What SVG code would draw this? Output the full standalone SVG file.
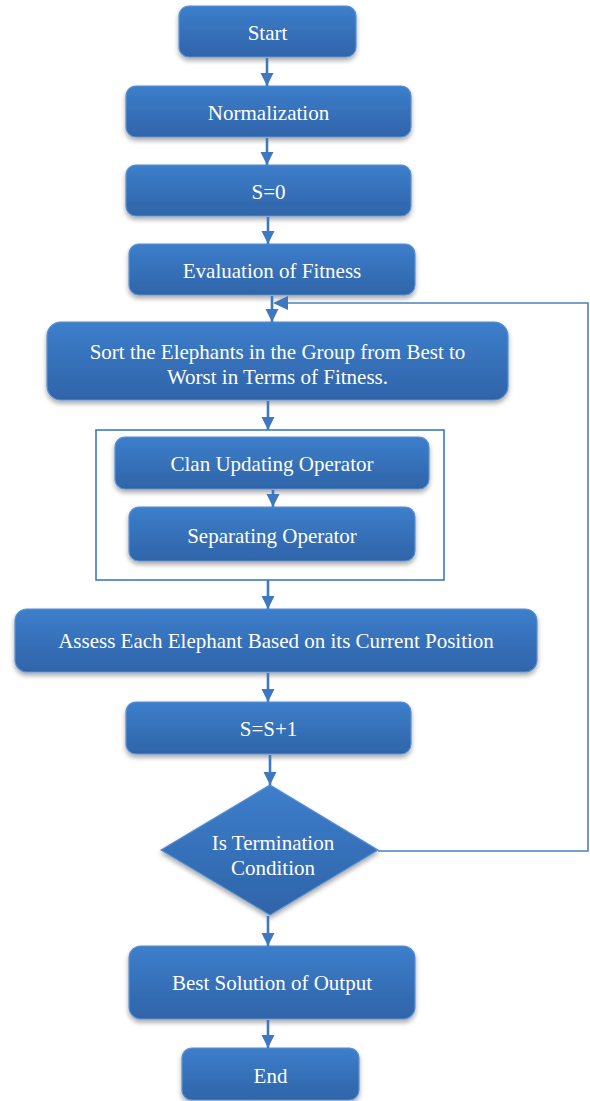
<svg xmlns="http://www.w3.org/2000/svg" width="590" height="1101" viewBox="0 0 590 1101">
  <defs>
    <linearGradient id="boxFill" x1="0" y1="0" x2="0" y2="1">
      <stop offset="0" stop-color="#3d7ecb"/>
      <stop offset="1" stop-color="#2f64a9"/>
    </linearGradient>
    <filter id="shadow" x="-10%" y="-20%" width="120%" height="150%">
      <feGaussianBlur in="SourceAlpha" stdDeviation="2.5"/>
      <feOffset dx="0" dy="3" result="b"/>
      <feComponentTransfer><feFuncA type="linear" slope="0.35"/></feComponentTransfer>
      <feMerge><feMergeNode/><feMergeNode in="SourceGraphic"/></feMerge>
    </filter>
    <marker id="arrow" viewBox="0 0 10 10" refX="10" refY="5" markerWidth="5" markerHeight="5.4" orient="auto" markerUnits="strokeWidth">
      <path d="M0,0 L10,5 L0,10 z" fill="#3f78c0"/>
    </marker>
  </defs>
  <style>
    .box { fill: url(#boxFill); stroke: #5a8fd0; stroke-width: 1.2; filter: url(#shadow); }
    .label { font-family: "Liberation Serif", "Times New Roman", serif; font-size: 21px; fill: #ffffff; text-anchor: middle; }
    .conn { stroke: #3f78c0; stroke-width: 2.6; fill: none; marker-end: url(#arrow); }
    .loop { stroke: #4a80c4; stroke-width: 1.6; fill: none; }
  </style>

  <rect width="590" height="1101" fill="#ffffff"/>

  <!-- container around the two clan operators -->
  <rect x="96" y="430" width="348" height="150" fill="none" stroke="#3f78c0" stroke-width="1.6"/>

  <g id="start">
    <rect class="box" x="179" y="6" width="177" height="51" rx="10"/>
    <text class="label" x="267.5" y="40">Start</text>
  </g>
  <g id="normalization">
    <rect class="box" x="126" y="86" width="285" height="51" rx="10"/>
    <text class="label" x="268.5" y="120">Normalization</text>
  </g>
  <g id="s-init">
    <rect class="box" x="126" y="165" width="285" height="51" rx="10"/>
    <text class="label" x="268.5" y="199">S=0</text>
  </g>
  <g id="evaluation">
    <rect class="box" x="129" y="244" width="286" height="51" rx="10"/>
    <text class="label" x="272" y="278">Evaluation of Fitness</text>
  </g>
  <g id="sort">
    <rect class="box" x="47" y="322" width="461" height="78" rx="14"/>
    <text class="label" x="277.5" y="359">Sort the Elephants in the Group from Best to</text>
    <text class="label" x="277.5" y="384">Worst in Terms of Fitness.</text>
  </g>
  <g id="clan-updating">
    <rect class="box" x="115" y="437" width="314" height="52" rx="10"/>
    <text class="label" x="272" y="471">Clan Updating Operator</text>
  </g>
  <g id="separating">
    <rect class="box" x="129" y="507" width="286" height="54" rx="10"/>
    <text class="label" x="272" y="543">Separating Operator</text>
  </g>
  <g id="assess">
    <rect class="box" x="15" y="609" width="522" height="63" rx="12"/>
    <text class="label" x="276" y="648">Assess Each Elephant Based on its Current Position</text>
  </g>
  <g id="s-increment">
    <rect class="box" x="126" y="702" width="285" height="52" rx="10"/>
    <text class="label" x="268.5" y="736">S=S+1</text>
  </g>
  <g id="termination">
    <polygon class="box" points="270,785 378,850 270,915 161,850"/>
    <text class="label" x="273" y="850">Is Termination</text>
    <text class="label" x="273" y="875">Condition</text>
  </g>
  <g id="best-solution">
    <rect class="box" x="129" y="946" width="286" height="73" rx="12"/>
    <text class="label" x="272" y="990">Best Solution of Output</text>
  </g>
  <g id="end">
    <rect class="box" x="182" y="1048" width="177" height="52" rx="10"/>
    <text class="label" x="270.5" y="1083">End</text>
  </g>

  <g id="connectors">
    <line class="conn" x1="267" y1="58" x2="267" y2="86"/>
    <line class="conn" x1="267" y1="138" x2="267" y2="165"/>
    <line class="conn" x1="268" y1="217" x2="268" y2="244"/>
    <line class="conn" x1="272" y1="296" x2="272" y2="322"/>
    <line class="conn" x1="268" y1="401" x2="268" y2="430"/>
    <line class="conn" x1="273" y1="490" x2="273" y2="507"/>
    <line class="conn" x1="268" y1="580" x2="268" y2="609"/>
    <line class="conn" x1="268" y1="673" x2="268" y2="702"/>
    <line class="conn" x1="270" y1="755" x2="270" y2="785"/>
    <line class="conn" x1="268" y1="916" x2="268" y2="946"/>
    <line class="conn" x1="268" y1="1020" x2="268" y2="1048"/>
    <!-- loop back from the termination test -->
    <polyline class="loop" points="378,851 588,851 588,303 287,303"/>
    <polygon points="273,303 288,296 288,310" fill="#3f78c0"/>
  </g>
</svg>
